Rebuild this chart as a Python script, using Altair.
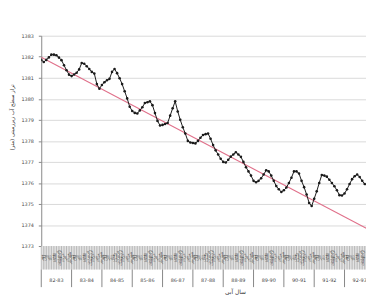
import altair as alt
import pandas as pd

# ---- data ----
levels = [
    1381.85, 1381.75, 1381.85, 1381.97, 1382.10, 1382.10, 1382.07, 1381.96, 1381.84, 1381.60,
    1381.36, 1381.15, 1381.08, 1381.16, 1381.24, 1381.40, 1381.70, 1381.67, 1381.55, 1381.42,
    1381.28, 1381.20, 1380.70, 1380.48, 1380.66, 1380.79, 1380.88, 1380.95, 1381.28, 1381.42,
    1381.22, 1380.98, 1380.70, 1380.36, 1380.02, 1379.62, 1379.42, 1379.33, 1379.30, 1379.45,
    1379.60, 1379.80, 1379.84, 1379.88, 1379.70, 1379.32, 1378.95, 1378.73, 1378.76, 1378.80,
    1378.85, 1379.20, 1379.55, 1379.88, 1379.40, 1379.00, 1378.65, 1378.35, 1378.00, 1377.92,
    1377.90, 1377.88, 1378.00, 1378.15, 1378.28, 1378.32, 1378.35, 1378.10, 1377.80, 1377.55,
    1377.35, 1377.15, 1377.00, 1376.97, 1377.10, 1377.25, 1377.35, 1377.46, 1377.35, 1377.24,
    1377.00, 1376.75, 1376.55, 1376.35, 1376.10, 1376.03, 1376.10, 1376.22, 1376.40, 1376.60,
    1376.55, 1376.35, 1376.10, 1375.85, 1375.70, 1375.57, 1375.65, 1375.78, 1376.00, 1376.25,
    1376.55, 1376.55, 1376.45, 1376.10, 1375.80, 1375.45, 1375.05, 1374.90, 1375.25, 1375.60,
    1376.00, 1376.38, 1376.35, 1376.30, 1376.15, 1376.00, 1375.84, 1375.65, 1375.42, 1375.40,
    1375.50, 1375.70, 1375.95, 1376.18, 1376.32, 1376.40, 1376.28, 1376.10, 1375.95, 1375.85,
    1375.90, 1376.00,
]
month_index = list(range(len(levels)))

trend_x = [0, 132]
trend_y = [1381.98, 1373.63]

y_ticks = [1373, 1374, 1375, 1376, 1377, 1378, 1379, 1380, 1381, 1382, 1383]

group_labels = ["82-83", "83-84", "84-85", "85-86", "86-87", "87-88",
                "88-89", "89-90", "90-91", "91-92", "92-93"]
month_names = ["مهر", "آبان", "آذر", "دی", "بهمن", "اسفند",
               "فروردین", "اردیبهشت", "خرداد", "تیر", "مرداد", "شهریور"]

y_title = "تراز سطح آب زیرزمینی (متر)"
x_title = "سال آبی"

VISIBLE_MONTHS = 128  # months whose labels fit inside the cropped view

# ---- tables ----
df = pd.DataFrame({"m": month_index, "level": levels})
trend_df = pd.DataFrame({"m": trend_x, "level": trend_y})
n_months = len(group_labels) * 12
month_lab_df = pd.DataFrame({
    "mc": [i + 0.5 for i in range(VISIBLE_MONTHS)],
    "name": [month_names[i % 12] for i in range(VISIBLE_MONTHS)],
})
month_sep_df = pd.DataFrame({"m": list(range(n_months + 1))})
group_sep_df = pd.DataFrame({"m": [12 * k for k in range(len(group_labels) + 1)]})
group_lab_df = pd.DataFrame({"mc": [12 * k + 6 for k in range(len(group_labels))],
                             "label": group_labels})
band_df = pd.DataFrame({"a": [0], "b": [n_months]})

FONT = "DejaVu Sans"
xs = alt.Scale(domain=[0, 128.5], nice=False, zero=False)
ys = alt.Scale(domain=[1373, 1383], nice=False, zero=False)

x_axis = alt.Axis(labels=False, ticks=False, domain=False, grid=False,
                  title=x_title, titleFont=FONT, titleFontSize=6, titleFontWeight="normal",
                  titleColor="#333", titlePadding=44, titleX=198)
y_axis = alt.Axis(values=y_ticks, format="d", grid=True, gridColor="#d9d9d9",
                  labelOverlap=False, labelFontSize=5, labelColor="#444",
                  labelFont=FONT, labelPadding=5,
                  tickSize=3, tickColor="#888", domainColor="#888",
                  title=y_title, titleFont=FONT, titleFontSize=5.5,
                  titleFontWeight="normal", titleColor="#333",
                  titleAngle=270, titleX=-27, titleY=83)

band = alt.Chart(band_df).mark_rect(fill="#e2e2e2", clip=False).encode(
    x=alt.X("a:Q", scale=xs, axis=x_axis), x2="b:Q",
    y=alt.value(215), y2=alt.value(239))

month_sep = alt.Chart(month_sep_df).mark_rule(color="#9a9a9a", strokeWidth=0.6, clip=False).encode(
    x=alt.X("m:Q", scale=xs, axis=x_axis), y=alt.value(215), y2=alt.value(239))

month_lab = alt.Chart(month_lab_df).mark_text(
    angle=270, fontSize=4, font=FONT, color="#555", align="center", baseline="middle", clip=False
).encode(x=alt.X("mc:Q", scale=xs, axis=x_axis), y=alt.value(227), text="name:N")

group_sep = alt.Chart(group_sep_df).mark_rule(color="#666", strokeWidth=0.8, clip=False).encode(
    x=alt.X("m:Q", scale=xs, axis=x_axis), y=alt.value(239), y2=alt.value(257))

group_lab = alt.Chart(group_lab_df).mark_text(
    fontSize=5, font=FONT, color="#444", clip=False
).encode(x=alt.X("mc:Q", scale=xs, axis=x_axis), y=alt.value(250), text="label:N")

trend = alt.Chart(trend_df).mark_line(color="#e0708a", strokeWidth=1.1, clip=True).encode(
    x=alt.X("m:Q", scale=xs, axis=x_axis),
    y=alt.Y("level:Q", scale=ys, axis=y_axis),
)

line = alt.Chart(df).mark_line(
    color="#1a1a1a", strokeWidth=1, clip=True,
    point=alt.OverlayMarkDef(size=7, filled=True, color="#1a1a1a", clip=True)
).encode(x=alt.X("m:Q", scale=xs, axis=x_axis), y=alt.Y("level:Q", scale=ys, axis=y_axis))

chart = alt.layer(band, month_sep, month_lab, group_sep, group_lab, trend, line).properties(
    width=332, height=215, autosize="none",
    padding={"left": 34, "top": 25, "right": 0, "bottom": 60},
    background="white",
).configure_view(stroke=None)

chart.save("out.html", embed_options={"renderer": "svg", "actions": False})
